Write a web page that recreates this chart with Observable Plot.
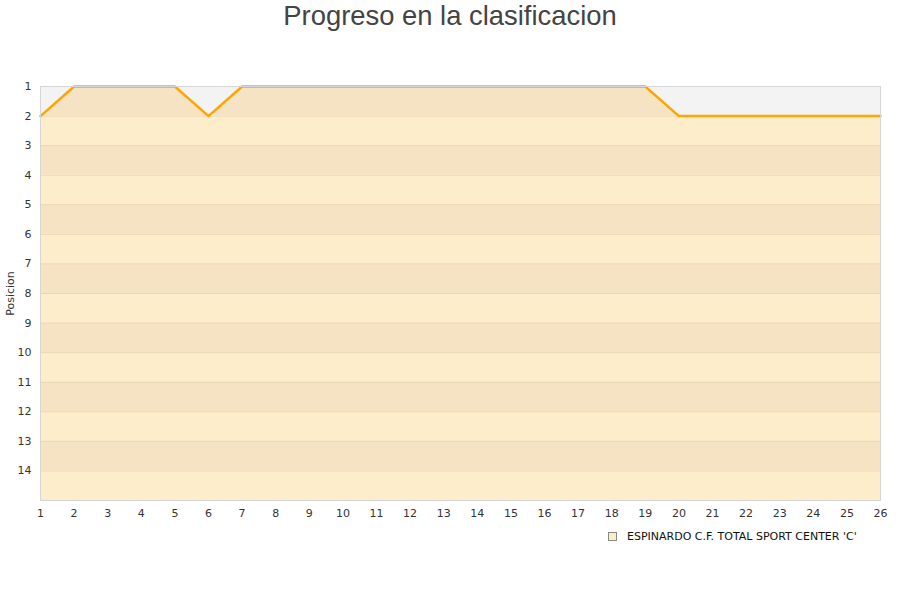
<!DOCTYPE html>
<html>
<head>
<meta charset="utf-8">
<script src="https://cdn.jsdelivr.net/npm/d3@7"></script>
<script src="https://cdn.jsdelivr.net/npm/@observablehq/plot@0.6"></script>
<style>
  body { margin: 0; background: #fff; }
  #wrap { position: relative; width: 900px; height: 600px; }
  #title { position: absolute; top: 0; left: 0; width: 900px; text-align: center;
    font-family: "Liberation Sans", Arial, sans-serif; font-size: 27.4px; color: #444; line-height: 32px; }
  #legend { position: absolute; left: 608px; top: 530px; font-family: "DejaVu Sans", sans-serif;
    font-size: 11px; color: #111; display: flex; align-items: center; }
  #legend span.sw { display: inline-block; width: 7px; height: 7px; background: #fdecc9;
    border: 1px solid #888; margin-right: 10px; }
</style>
</head>
<body>
<div id="wrap">
  <div id="title">Progreso en la clasificacion</div>
  <div id="chart"></div>
  <div id="legend"><span class="sw"></span><span>ESPINARDO C.F. TOTAL SPORT CENTER 'C'</span></div>
</div>
<script>
const rounds = [1,2,3,4,5,6,7,8,9,10,11,12,13,14,15,16,17,18,19,20,21,22,23,24,25,26];
const positions = [2,1,1,1,1,2,1,1,1,1,1,1,1,1,1,1,1,1,1,2,2,2,2,2,2,2];
const rankTicks = [1,2,3,4,5,6,7,8,9,10,11,12,13,14];
const teamName = "ESPINARDO C.F. TOTAL SPORT CENTER 'C'";

const data = rounds.map((r, i) => ({round: r, pos: positions[i]}));
const bands = rankTicks.map(k => ({k, dark: k % 2 === 1}));
const xMin = d3.min(rounds), xMax = d3.max(rounds);

const chart = Plot.plot({
  width: 900,
  height: 600,
  marginTop: 86,
  marginBottom: 100,
  marginLeft: 40,
  marginRight: 20,
  style: {fontFamily: "DejaVu Sans, sans-serif", fontSize: "11px", color: "#333", background: "transparent"},
  x: {domain: [xMin, xMax], ticks: rounds, tickSize: 0, tickPadding: 9, label: null, tickFormat: d => String(d)},
  y: {domain: [1, rankTicks.length + 1], reverse: true, ticks: rankTicks, tickSize: 0, tickPadding: 9,
      label: "Posicion", labelAnchor: "center", labelArrow: "none", labelOffset: 34, tickFormat: d => String(d)},
  marks: [
    Plot.rect(bands, {x1: xMin, x2: xMax, y1: d => d.k, y2: d => d.k + 1,
      fill: d => d.dark ? "#f6e3c3" : "#feedcb"}),
    Plot.ruleY(rankTicks.slice(1), {x1: xMin, x2: xMax, stroke: "#ecd6b2", strokeWidth: 1}),
    Plot.areaY(data, {x: "round", y1: () => 1, y2: "pos", fill: "#f3f3f3"}),
    Plot.line(data, {x: "round", y: "pos", stroke: "#ffa500", strokeWidth: 2.5}),
    Plot.frame({stroke: "#d6d6d6", strokeWidth: 1})
  ]
});
document.getElementById("chart").appendChild(chart);
</script>
</body>
</html>
